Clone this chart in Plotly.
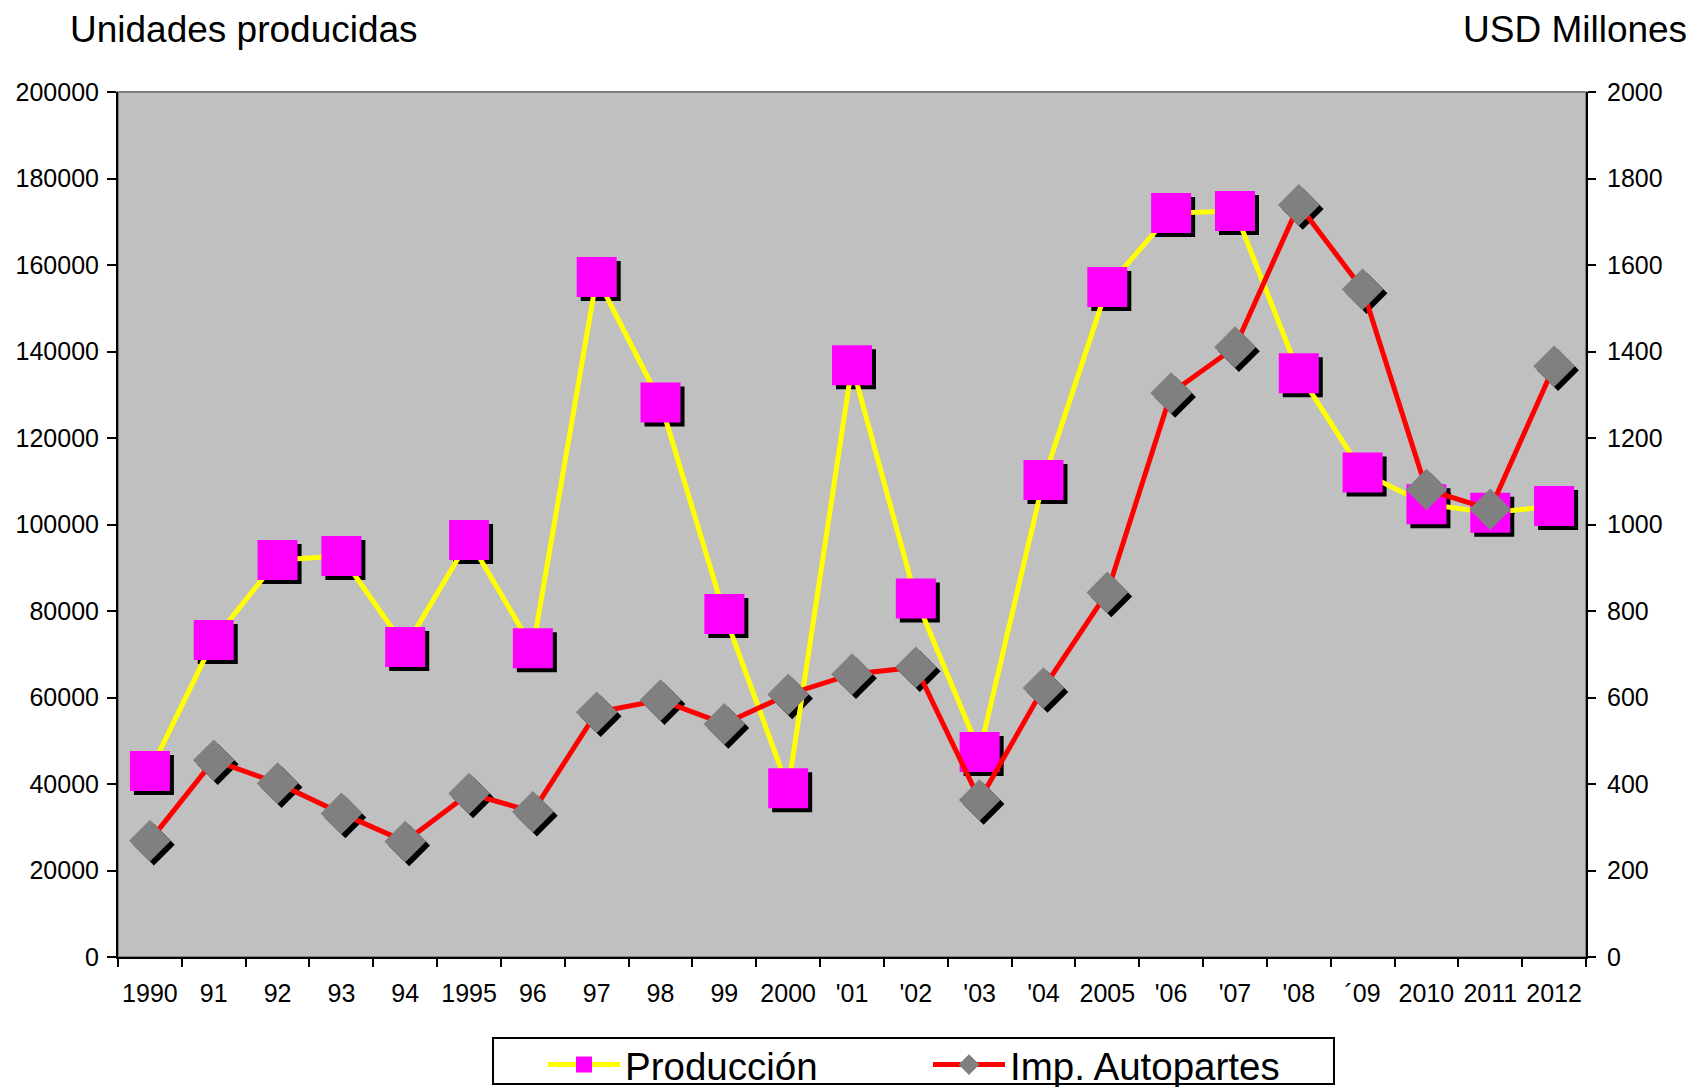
import plotly.graph_objects as go

years = ['1990', '91', '92', '93', '94', '1995', '96', '97', '98', '99', '2000',
         "'01", "'02", "'03", "'04", '2005', "'06", "'07", "'08", "´09",
         '2010', '2011', '2012']
produccion = [43000, 73300, 91800, 92700, 71700, 96400, 71400, 157200, 128200,
              79300, 39000, 136800, 82900, 47400, 110300, 154900, 172000,
              172500, 135000, 112000, 104700, 102700, 104300]
imp_autopartes = [269, 455, 402, 332, 267, 378, 336, 566, 594, 539, 607, 654,
                  670, 363, 622, 843, 1304, 1410, 1739, 1544, 1081, 1035, 1366]

W, H = 1707, 1087
OFF = 8                            # page body margin
L, R, T, B = 118 - OFF, 1586 - OFF, 92 - OFF, 957 - OFF   # plot area in figure px
SH = 4                             # shadow offset px
pw = (R + SH) - L
ph = (B + SH) - T


def px_x(xf):
    return (xf - L) / pw


def px_y(yf):
    return (B + SH - yf) / ph


FONT = "Arial, Liberation Sans, sans-serif"

fig = go.Figure()

# shadows (drawn first, on axes shifted by SH px)
fig.add_trace(go.Scatter(x=years, y=produccion, mode='markers', xaxis='x', yaxis='y',
                         marker=dict(symbol='square', size=40, color='black', line=dict(width=0)),
                         showlegend=False, hoverinfo='skip'))
fig.add_trace(go.Scatter(x=years, y=imp_autopartes, mode='markers', xaxis='x', yaxis='y2',
                         marker=dict(symbol='diamond', size=32, color='black', line=dict(width=0)),
                         showlegend=False, hoverinfo='skip'))

# main series
fig.add_trace(go.Scatter(x=years, y=produccion, mode='lines+markers', name='Producción',
                         xaxis='x2', yaxis='y3',
                         line=dict(color='#FFFF00', width=5),
                         marker=dict(symbol='square', size=40, color='#FF00FF', line=dict(width=0))))
fig.add_trace(go.Scatter(x=years, y=imp_autopartes, mode='lines+markers', name='Imp. Autopartes',
                         xaxis='x2', yaxis='y4',
                         line=dict(color='#FF0000', width=5),
                         marker=dict(symbol='diamond', size=32, color='#808080', line=dict(width=0))))

main_xdom = [0, (R - L) / pw]
main_ydom = [SH / ph, 1]
sh_xdom = [SH / pw, 1]
sh_ydom = [0, (B - T) / ph]

tickfont = dict(family=FONT, size=25, color='black')

# legend box (page px 493..1334, 1038..1084)
LB = dict(x0=493 - OFF, x1=1334 - OFF, y0=1038 - OFF, y1=1084 - OFF)

fig.update_layout(
    width=W, height=H,
    margin=dict(l=L, r=W - (R + SH), t=T, b=H - (B + SH), autoexpand=False),
    paper_bgcolor='white', plot_bgcolor='rgba(0,0,0,0)',
    font=dict(family=FONT, color='black'),
    xaxis=dict(domain=sh_xdom, anchor='y', type='category', range=[-0.5, 22.5], visible=False),
    yaxis=dict(domain=sh_ydom, anchor='x', range=[0, 200000], visible=False),
    yaxis2=dict(overlaying='y', anchor='x', range=[0, 2000], visible=False),
    xaxis2=dict(domain=main_xdom, anchor='y3', type='category', range=[-0.5, 22.5],
                showline=True, linecolor='black', linewidth=2, showgrid=False,
                ticks='outside', tickson='boundaries', ticklen=8, tickwidth=2, tickcolor='black',
                tickfont=tickfont, tickangle=0, ticklabelstandoff=13),
    yaxis3=dict(domain=main_ydom, anchor='x2', range=[0, 200000], dtick=20000, tickformat='d',
                showline=True, linecolor='black', linewidth=2, showgrid=False, zeroline=False,
                ticks='outside', ticklen=9, tickwidth=2, tickcolor='black',
                tickfont=tickfont, ticklabelstandoff=3),
    yaxis4=dict(overlaying='y3', anchor='x2', side='right', range=[0, 2000], dtick=200,
                tickformat='d', showline=True, linecolor='black', linewidth=2, showgrid=False,
                zeroline=False, ticks='outside', ticklen=8, tickwidth=2, tickcolor='black',
                tickfont=tickfont, ticklabelstandoff=6),
    legend=dict(orientation='h', xref='container', yref='container',
                x=(535) / W, y=1 - 1025 / H, xanchor='left', yanchor='top',
                bgcolor='rgba(0,0,0,0)', borderwidth=0,
                font=dict(family=FONT, size=38.5, color='black'),
                itemwidth=72, entrywidth=298),
    shapes=[dict(type='rect', xref='paper', yref='paper', layer='below',
                 x0=main_xdom[0], x1=main_xdom[1], y0=main_ydom[0], y1=main_ydom[1],
                 fillcolor='#C0C0C0', line=dict(color='#808080', width=2)),
            dict(type='rect', xref='paper', yref='paper', layer='above',
                 x0=px_x(LB['x0']), x1=px_x(LB['x1']), y0=px_y(LB['y1']), y1=px_y(LB['y0']),
                 fillcolor='white', line=dict(color='black', width=2))],
    annotations=[
        dict(text='Unidades producidas', xref='paper', yref='paper',
             x=px_x(68.6 - OFF), y=px_y(21), xanchor='left', yanchor='middle', borderpad=0,
             showarrow=False, font=dict(family=FONT, size=37, color='black')),
        dict(text='USD Millones', xref='paper', yref='paper',
             x=px_x(1687.5 - OFF), y=px_y(21), xanchor='right', yanchor='middle', borderpad=0,
             showarrow=False, font=dict(family=FONT, size=37, color='black')),
    ],
)

fig.write_html("out.html")
